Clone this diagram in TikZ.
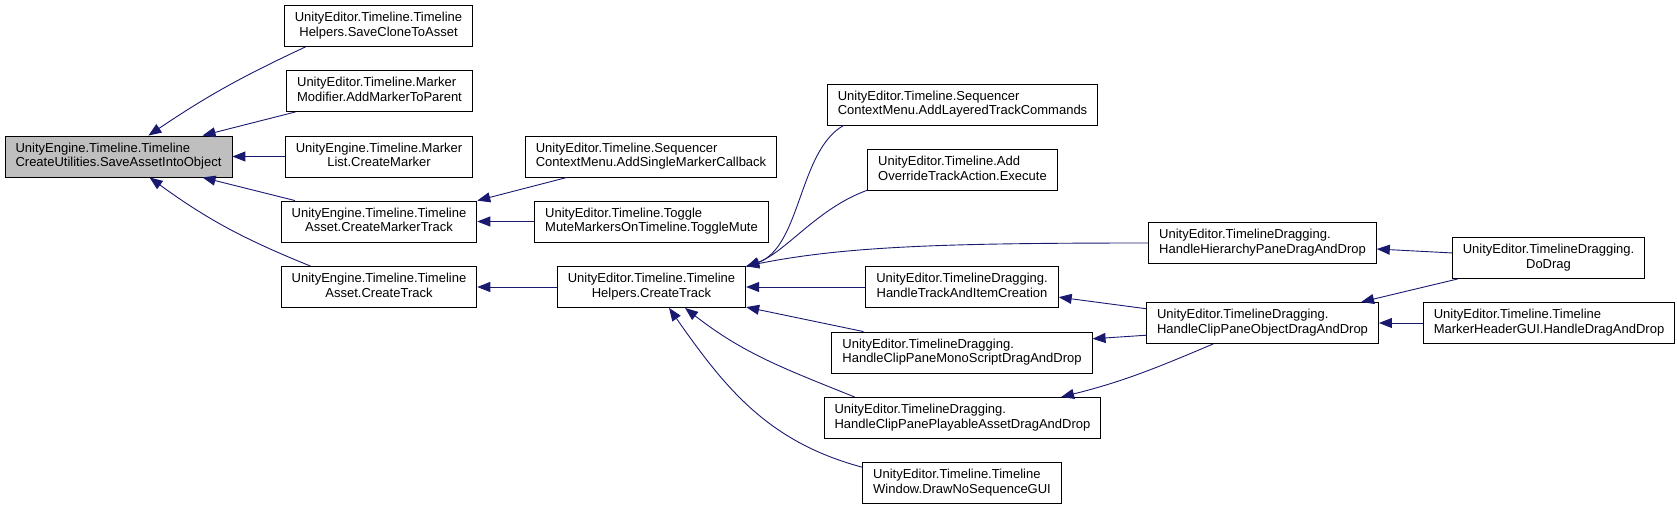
\documentclass[tikz,border=0pt]{standalone}
\usepackage{fontspec}
\setmainfont{Liberation Sans}
\usetikzlibrary{arrows.meta}
\definecolor{edgeblue}{HTML}{191970}
\definecolor{rootgray}{HTML}{BFBFBF}
\newcommand{\fnlabel}[2]{\begin{tabular}{@{}l@{}}#1\\\multicolumn{1}{@{}c@{}}{#2}\end{tabular}}

\begin{document}
\begin{tikzpicture}[x=1pt, y=1pt,
  fn/.style={draw=black, line width=0.9pt, fill=white, minimum height=41pt,
             inner xsep=10.5pt, inner ysep=0pt, font=\fontsize{13}{14.3}\selectfont},
  call/.style={draw=edgeblue, line width=0.9pt, {Triangle[length=13pt,width=10pt]}-}]
  \useasboundingbox (0,0) rectangle (1677,-509);

  \node[fn, fill=rootgray] (root) at (118.5,-156.5) {\fnlabel{UnityEngine.Timeline.Timeline}{CreateUtilities.SaveAssetIntoObject}};
  \node[fn] (saveclone) at (378.5,-26) {\fnlabel{UnityEditor.Timeline.Timeline}{Helpers.SaveCloneToAsset}};
  \node[fn] (addmarker) at (379.5,-91) {\fnlabel{UnityEditor.Timeline.Marker}{Modifier.AddMarkerToParent}};
  \node[fn] (createmarker) at (379,-156.5) {\fnlabel{UnityEngine.Timeline.Marker}{List.CreateMarker}};
  \node[fn] (markertrack) at (379,-221.5) {\fnlabel{UnityEngine.Timeline.Timeline}{Asset.CreateMarkerTrack}};
  \node[fn] (assettrack) at (379,-287) {\fnlabel{UnityEngine.Timeline.Timeline}{Asset.CreateTrack}};
  \node[fn] (singlemarker) at (651,-156.5) {\fnlabel{UnityEditor.Timeline.Sequencer}{ContextMenu.AddSingleMarkerCallback}};
  \node[fn] (togglemute) at (651.5,-221.5) {\fnlabel{UnityEditor.Timeline.Toggle}{MuteMarkersOnTimeline.ToggleMute}};
  \node[fn] (helpertrack) at (651.5,-287) {\fnlabel{UnityEditor.Timeline.Timeline}{Helpers.CreateTrack}};
  \node[fn] (layeredcmds) at (962.5,-104.5) {\fnlabel{UnityEditor.Timeline.Sequencer}{ContextMenu.AddLayeredTrackCommands}};
  \node[fn] (overrideexec) at (962.5,-170) {\fnlabel{UnityEditor.Timeline.Add}{OverrideTrackAction.Execute}};
  \node[fn] (trackitem) at (962,-287) {\fnlabel{UnityEditor.TimelineDragging.}{HandleTrackAndItemCreation}};
  \node[fn] (monoscript) at (962,-352.5) {\fnlabel{UnityEditor.TimelineDragging.}{HandleClipPaneMonoScriptDragAndDrop}};
  \node[fn] (playable) at (962.5,-418) {\fnlabel{UnityEditor.TimelineDragging.}{HandleClipPanePlayableAssetDragAndDrop}};
  \node[fn] (nosequence) at (962,-483) {\fnlabel{UnityEditor.Timeline.Timeline}{Window.DrawNoSequenceGUI}};
  \node[fn] (hierarchy) at (1262.5,-243) {\fnlabel{UnityEditor.TimelineDragging.}{HandleHierarchyPaneDragAndDrop}};
  \node[fn] (clipobject) at (1262.5,-323) {\fnlabel{UnityEditor.TimelineDragging.}{HandleClipPaneObjectDragAndDrop}};
  \node[fn] (dodrag) at (1548.5,-258) {\fnlabel{UnityEditor.TimelineDragging.}{DoDrag}};
  \node[fn] (markerheader) at (1549,-323) {\fnlabel{UnityEditor.Timeline.Timeline}{MarkerHeaderGUI.HandleDragAndDrop}};

  \draw[call] (root.35) to[out=34,in=205] (saveclone.196);
  \draw[call] (root.14) -- (addmarker.194);
  \draw[call] (root) -- (createmarker);
  \draw[call] (root.346) -- (markertrack.166);
  \draw[call] (root.326) to[out=-36,in=158] (assettrack.163);
  \draw[call] (markertrack.12) -- (singlemarker.194);
  \draw[call] (markertrack) -- (togglemute);
  \draw[call] (assettrack) -- (helpertrack);
  \draw[call] (helpertrack.12) .. controls +(55,20) and +(-45,-25) .. (layeredcmds.190);
  \draw[call] (helpertrack.12) .. controls +(40,15) and +(-50,-18) .. (overrideexec.192);
  \draw[call] (helpertrack.north east) .. controls +(100,20) and +(-200,0) .. (hierarchy.west);
  \draw[call] (helpertrack) -- (trackitem);
  \draw[call] (helpertrack.348) -- (monoscript.168);
  \draw[call] (helpertrack.328) to[out=-38,in=158] (playable.169);
  \draw[call] (helpertrack.310) to[out=-55,in=165] (nosequence.171);
  \draw[call] (trackitem.354) -- (clipobject.173);
  \draw[call] (monoscript.6) -- (clipobject.186);
  \draw[call] (playable.12) to[out=14,in=203] (clipobject.203);
  \draw[call] (hierarchy.357) -- (dodrag.177);
  \draw[call] (clipobject.12) -- (dodrag.193);
  \draw[call] (clipobject) -- (markerheader);
\end{tikzpicture}
\end{document}
